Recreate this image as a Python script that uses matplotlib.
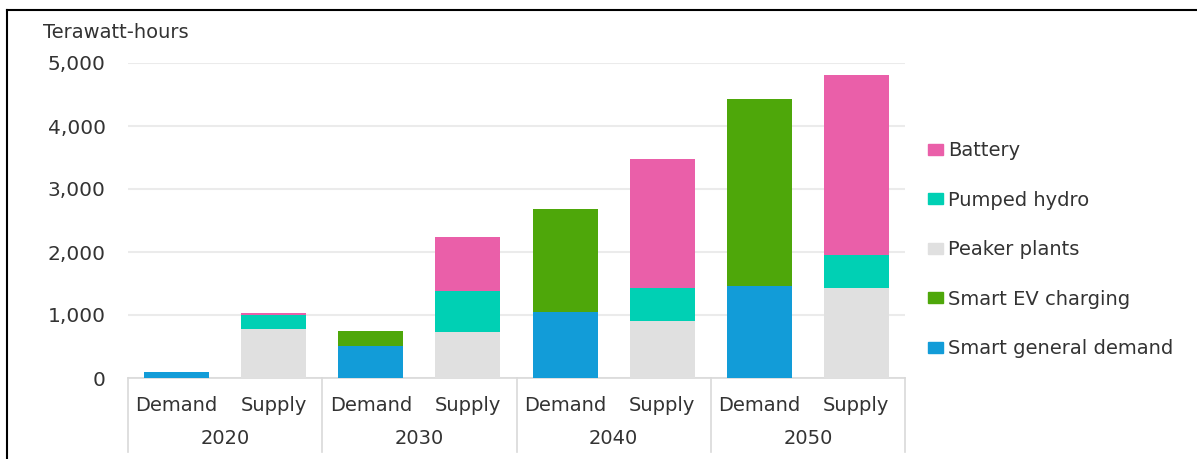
import matplotlib
matplotlib.use("Agg")
import matplotlib.pyplot as plt
from matplotlib.lines import Line2D
from matplotlib.patches import Patch
import numpy as np

plt.rcParams['font.family'] = ['DejaVu Sans']

years = ["2020", "2030", "2040", "2050"]
bar_labels = ["Demand", "Supply"] * 4
series_names = ["Smart general demand", "Smart EV charging", "Peaker plants", "Pumped hydro", "Battery"]
colors = ["#129CD8", "#4EA70A", "#E0E0E0", "#00D0B4", "#EA5FA9"]

# values per bar (Demand/Supply for each year)
smart_general = [100, 0, 510, 0, 1050, 0, 1460, 0]
smart_ev      = [0, 0, 240, 0, 1635, 0, 2970, 0]
peaker        = [0, 780, 0, 730, 0, 905, 0, 1430]
pumped_hydro  = [0, 220, 0, 650, 0, 525, 0, 525]
battery       = [0, 30, 0, 860, 0, 2050, 0, 2855]
series = [smart_general, smart_ev, peaker, pumped_hydro, battery]

W, H = 1197, 459
fig = plt.figure(figsize=(W/100, H/100), dpi=100)
ax = fig.add_axes([128/W, (H-378)/H, (905-128)/W, (378-63)/H])

x = np.arange(len(bar_labels))
bottom = np.zeros(len(x))
for vals, c, name in zip(series, colors, series_names):
    v = np.array(vals, dtype=float)
    ax.bar(x, v, bottom=bottom, color=c, width=0.67, label=name, zorder=3)
    bottom += v

ax.set_xlim(-0.5, len(x) - 0.5)
ax.set_ylim(0, 5000)
ax.set_yticks([0, 1000, 2000, 3000, 4000, 5000])
ax.set_yticklabels(["0", "1,000", "2,000", "3,000", "4,000", "5,000"])
ax.yaxis.grid(True, color="#EBEBEB", linewidth=1.5, zorder=0)
ax.set_axisbelow(True)
for s in ["top", "right", "left"]:
    ax.spines[s].set_visible(False)
ax.spines["bottom"].set_color("#D9D9D9")
ax.spines["bottom"].set_linewidth(1.2)
ax.tick_params(axis="y", length=0, pad=16, labelsize=14.5, labelcolor="#333333")
ax.set_xticks(x)
ax.set_xticklabels(bar_labels)
ax.tick_params(axis="x", length=0, pad=13, labelsize=14, labelcolor="#333333")

# category separators and year labels
trans = ax.get_xaxis_transform()
ylow = -74/315
for b in np.arange(-0.5, len(x), 2):
    ax.add_line(Line2D([b, b], [0, ylow], transform=trans, color="#D9D9D9",
                       linewidth=1.2, clip_on=False))
for i, yr in enumerate(years):
    ax.text(2*i + 0.5, -60/315, yr, transform=trans, ha="center", va="center",
            fontsize=14, color="#333333")

fig.text(43/W, 1 - 32/H, "Terawatt-hours", fontsize=14, color="#333333",
         ha="left", va="center")

handles = [Patch(color=c, label=n) for c, n in zip(colors, series_names)][::-1]
fig.legend(handles=handles, loc="upper left", bbox_to_anchor=(928/W, 1 - 141/H),
           frameon=False, fontsize=14, labelspacing=1.57, handlelength=0.75,
           handleheight=0.5, handletextpad=0.3, labelcolor="#333333",
           borderaxespad=0, borderpad=0)

# figure border (top and left)
fig.add_artist(Line2D([7/W, 1], [1 - 10/H, 1 - 10/H], color="black", linewidth=1.5,
                      transform=fig.transFigure))
fig.add_artist(Line2D([7/W, 7/W], [0, 1 - 10/H], color="black", linewidth=1.5,
                      transform=fig.transFigure))

fig.savefig("out.png", dpi=100)
